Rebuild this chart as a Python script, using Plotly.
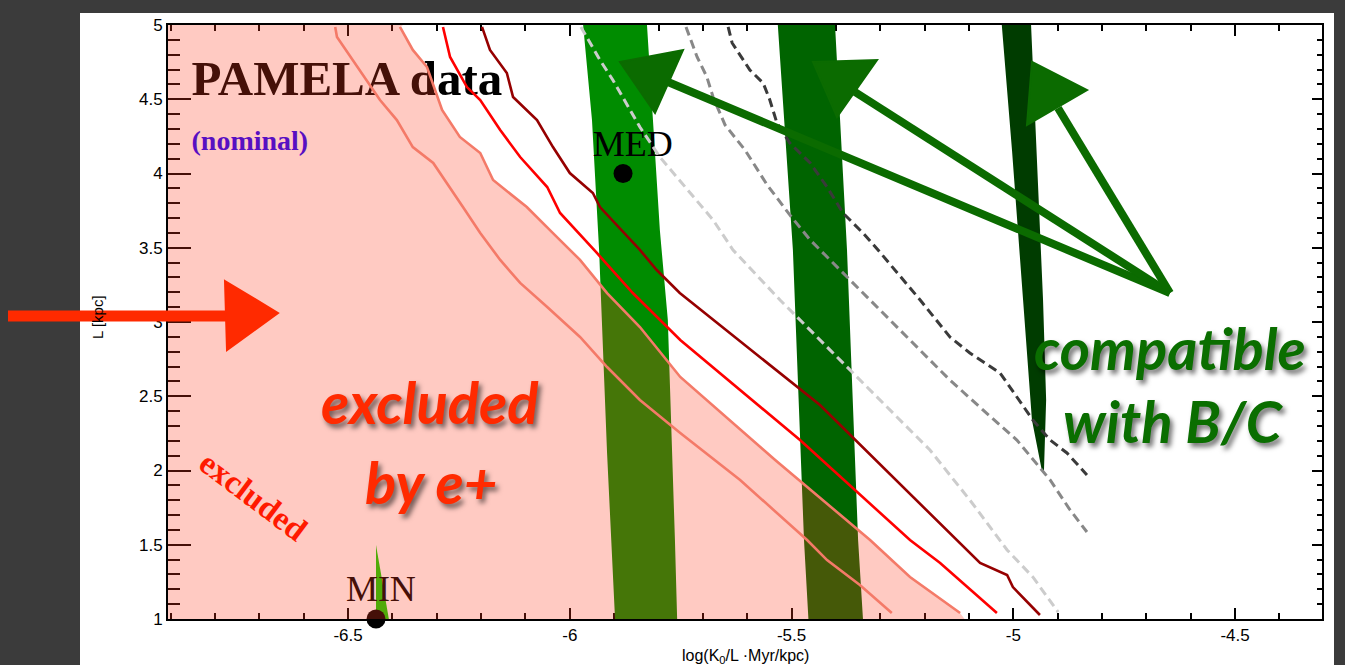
import plotly.graph_objects as go

# ---------------- data ----------------
X_RANGE = [-6.906, -4.304]
Y_RANGE = [1.0, 5.0]
X_TICKS = [-6.5, -6.0, -5.5, -5.0, -4.5]
X_TICK_TEXT = ["-6.5", "-6", "-5.5", "-5", "-4.5"]
Y_TICKS = [1, 1.5, 2, 2.5, 3, 3.5, 4, 4.5, 5]
Y_TICK_TEXT = ["1", "1.5", "2", "2.5", "3", "3.5", "4", "4.5", "5"]

# exclusion contours (solid)
salmon1_x = [-6.529, -6.525, -6.428, -6.390, -6.354, -6.308, -6.241, -6.202, -6.157, -6.112, -6.051,
             -5.977, -5.916, -5.842, -5.751, -5.616, -5.465, -5.420, -5.346, -5.274]
salmon1_y = [4.987, 4.919, 4.495, 4.360, 4.178, 4.071, 3.774, 3.599, 3.418, 3.263, 3.101,
             2.899, 2.697, 2.475, 2.253, 1.936, 1.532, 1.397, 1.229, 1.040]
salmon2_x = [-6.383, -6.354, -6.322, -6.288, -6.248, -6.202, -6.173, -6.097, -6.038, -5.977, -5.916,
             -5.842, -5.751, -5.537, -5.323, -5.233, -5.120]
salmon2_y = [4.987, 4.832, 4.717, 4.428, 4.246, 4.138, 3.956, 3.774, 3.599, 3.418, 3.195,
             2.966, 2.630, 2.071, 1.532, 1.283, 1.040]
red_x = [-6.286, -6.270, -6.232, -6.202, -6.157, -6.112, -6.051, -6.022, -5.939, -5.858, -5.751,
         -5.481, -5.233, -5.165, -5.037]
red_y = [4.987, 4.785, 4.582, 4.495, 4.293, 4.111, 3.909, 3.734, 3.465, 3.195, 2.879,
         2.205, 1.532, 1.377, 1.040]
darkred_x = [-6.198, -6.180, -6.142, -6.128, -6.074, -6.038, -6.000, -5.948, -5.932, -5.842, -5.804,
             -5.752, -5.436, -5.127, -5.075, -5.014, -5.001, -4.940]
darkred_y = [4.987, 4.832, 4.677, 4.515, 4.360, 4.178, 4.003, 3.869, 3.774, 3.485, 3.350,
             3.195, 2.441, 1.532, 1.377, 1.296, 1.215, 1.027]

# dashed contours
lgray_x = [-5.975, -5.932, -5.903, -5.864, -5.842, -5.797, -5.729, -5.677, -5.632, -5.526, -5.413,
           -5.301, -5.188, -5.098, -5.014, -4.956, -4.899]
lgray_y = [4.987, 4.764, 4.630, 4.428, 4.313, 4.111, 3.869, 3.687, 3.485, 3.148, 2.811,
           2.475, 2.138, 1.801, 1.465, 1.283, 1.047]
mgray_x = [-5.738, -5.713, -5.691, -5.677, -5.650, -5.605, -5.555, -5.504, -5.458, -5.391, -5.301,
           -5.210, -5.143, -5.068, -4.992, -4.917, -4.872, -4.834]
mgray_y = [4.987, 4.785, 4.650, 4.515, 4.327, 4.158, 3.923, 3.721, 3.552, 3.350, 3.081,
           2.811, 2.609, 2.407, 2.205, 1.936, 1.734, 1.586]
dgray_x = [-5.643, -5.634, -5.594, -5.564, -5.549, -5.533, -5.504, -5.458, -5.420, -5.384, -5.339,
           -5.305, -5.210, -5.143, -5.098, -5.030, -4.992, -4.956, -4.917, -4.879, -4.834]
dgray_y = [4.987, 4.879, 4.697, 4.609, 4.495, 4.340, 4.205, 4.071, 3.909, 3.734, 3.599,
           3.485, 3.148, 2.899, 2.791, 2.657, 2.495, 2.340, 2.205, 2.118, 1.970]

# B/C compatible bands (left edge top->bottom, right edge bottom->top)
med_left_x = [-5.970, -5.950, -5.934, -5.916, -5.898]
med_left_y = [5.0, 4.360, 3.485, 2.118, 1.0]
med_right_x = [-5.758, -5.763, -5.779, -5.797, -5.812, -5.826]
med_right_y = [1.0, 1.532, 3.013, 3.620, 4.360, 5.0]
mid_left_x = [-5.531, -5.497, -5.472, -5.462]
mid_left_y = [5.0, 3.485, 1.532, 1.0]
mid_right_x = [-5.339, -5.350, -5.375, -5.402]
mid_right_y = [1.0, 1.532, 3.485, 5.0]
max_left_x = [-5.026, -5.003, -4.978, -4.958, -4.935]
max_left_y = [5.0, 4.158, 3.148, 2.340, 1.990]
max_right_x = [-4.931, -4.926, -4.933, -4.960]
max_right_y = [1.990, 2.475, 3.148, 5.0]
min_wedge_x = [-6.437, -6.437, -6.408]
min_wedge_y = [1.498, 1.0, 1.0]

# excluded region corner points (left axis side) and boundary ends
excl_left_x = -7.0
excl_top_x = -6.376
excl_bottom_x = -5.110

# benchmark points
bench_names = ["MED", "MIN"]
bench_x = [-5.880, -6.437]
bench_y = [4.0, 1.0]
bench_label_x = [-5.858, -6.426]
bench_label_y = [4.178, 1.182]

# ---------------- layout helpers ----------------
W, H = 1345, 665
ML, MR, MT, MB = 168, 23, 25, 46
PW, PH = W - ML - MR, H - MT - MB


def pxx(p):
    return (p - ML) / PW


def pxy(p):
    return (H - MB - p) / PH


fig = go.Figure()

# green bands
def band(lx, ly, rx, ry, color):
    fig.add_trace(go.Scatter(x=lx + rx, y=ly + ry, fill="toself", fillcolor=color, mode="lines",
                             line=dict(width=0, color=color), hoverinfo="skip", showlegend=False))


band(med_left_x, med_left_y, med_right_x, med_right_y, "#008c00")
band(mid_left_x, mid_left_y, mid_right_x, mid_right_y, "#006400")
band(max_left_x, max_left_y, max_right_x, max_right_y, "#003c00")
fig.add_trace(go.Scatter(x=min_wedge_x, y=min_wedge_y, fill="toself", fillcolor="#10d400", mode="lines",
                         line=dict(width=0, color="#10d400"), hoverinfo="skip", showlegend=False))

# texts that sit under the translucent exclusion layer
fig.add_trace(go.Scatter(x=[-6.853], y=[4.61], mode="text", text=["<b>PAMELA data</b>"],
                         textposition="middle right",
                         textfont=dict(family="Liberation Serif", size=49, color="black"),
                         hoverinfo="skip", showlegend=False))
fig.add_trace(go.Scatter(x=[-6.853], y=[4.205], mode="text", text=["<b>(nominal)</b>"],
                         textposition="middle right",
                         textfont=dict(family="Liberation Serif", size=28, color="#1a00ff"),
                         hoverinfo="skip", showlegend=False))
fig.add_trace(go.Scatter(x=bench_label_x, y=bench_label_y, mode="text", text=bench_names,
                         textposition="middle center",
                         textfont=dict(family="Liberation Serif", size=36, color="black"),
                         hoverinfo="skip", showlegend=False))

# benchmark dots
fig.add_trace(go.Scatter(x=bench_x, y=bench_y, mode="markers", marker=dict(size=19, color="black"),
                         cliponaxis=False, hoverinfo="skip", showlegend=False))

# translucent excluded region
ex_x = [excl_left_x, excl_top_x] + salmon2_x + [excl_bottom_x, excl_left_x]
ex_y = [Y_RANGE[1], Y_RANGE[1]] + salmon2_y + [Y_RANGE[0], Y_RANGE[0]]
fig.add_trace(go.Scatter(x=ex_x, y=ex_y, fill="toself", fillcolor="rgba(255,60,30,0.27)", mode="lines",
                         line=dict(width=0), hoverinfo="skip", showlegend=False))

# contours
def curve(x, y, color, dash="solid", width=2.6):
    fig.add_trace(go.Scatter(x=x, y=y, mode="lines", line=dict(color=color, width=width, dash=dash),
                             hoverinfo="skip", showlegend=False))


curve(salmon1_x, salmon1_y, "#f47a68")
curve(salmon2_x, salmon2_y, "#f47a68")
curve(red_x, red_y, "#ff0000")
curve(darkred_x, darkred_y, "#960000")
curve(lgray_x, lgray_y, "#cccccc", dash="9px,5px", width=3)
curve(mgray_x, mgray_y, "#888888", dash="9px,5px", width=3)
curve(dgray_x, dgray_y, "#3a3a3a", dash="9px,5px", width=3)

# dummy trace for the right frame axis
fig.add_trace(go.Scatter(x=[X_RANGE[0]], y=[Y_RANGE[0]], xaxis="x2", yaxis="y2", mode="markers",
                         marker=dict(opacity=0), hoverinfo="skip", showlegend=False))

# ---------------- decorations (arrows, panel) ----------------
shapes = []
shapes.append(dict(type="rect", xref="paper", yref="paper", x0=pxx(80), x1=pxx(1334), y0=pxy(670), y1=pxy(13),
                   fillcolor="white", line=dict(width=0), layer="below"))


def tri(pts, color):
    path = "M " + " L ".join(f"{pxx(a):.5f},{pxy(b):.5f}" for a, b in pts) + " Z"
    return dict(type="path", xref="paper", yref="paper", path=path, fillcolor=color,
                line=dict(color=color, width=2), layer="above")


def seg(a, b, color, w):
    return dict(type="line", xref="paper", yref="paper", x0=pxx(a[0]), y0=pxy(a[1]), x1=pxx(b[0]), y1=pxy(b[1]),
                line=dict(color=color, width=w), layer="above")


RED = "#ff2a00"
shapes.append(seg((8, 316), (235, 316), RED, 11))
shapes.append(tri([(225, 281), (278, 313), (227, 350)], RED))
GRN = "#0b6b00"
conv = (1170, 293)
shapes.append(seg((668, 82), conv, GRN, 8))
shapes.append(seg((855, 92), conv, GRN, 8))
shapes.append(seg((1058, 108), conv, GRN, 8))
shapes.append(tri([(620, 62), (683, 50), (655, 113)], GRN))
shapes.append(tri([(813, 62), (877, 60), (837, 117)], GRN))
shapes.append(tri([(1032, 62), (1087, 90), (1027, 125)], GRN))

annotations = []
SH = "3px 4px 5px rgba(0,0,0,0.55)"


def ann(text, x, y, font, angle=0):
    annotations.append(dict(text=text, x=pxx(x), y=pxy(y), xref="paper", yref="paper", showarrow=False,
                            xanchor="center", yanchor="middle", textangle=angle, font=font))


big_red = dict(family="Lato", size=58, color="#ff2a00", weight="bold", style="italic", shadow=SH)
big_grn = dict(family="Lato", size=58, color="#0a6e00", weight="bold", style="italic", shadow=SH)
ann("excluded", 430, 401, big_red)
ann("by e+", 431, 481, big_red)
ann("compatible", 1170, 347, big_grn)
ann("with B/C", 1173, 420, big_grn)
ann("<b>excluded</b>", 253, 496, dict(family="Liberation Serif", size=33, color="#ff1a00"), angle=37)
ann("log(K<sub>0</sub>/L ·Myr/kpc)", 745, 656, dict(family="Liberation Sans", size=16, color="black"))
ann("L [kpc]", 97, 317, dict(family="Liberation Sans", size=15, color="black"), angle=-90)

axis_font = dict(family="Liberation Sans", size=17, color="black")
fig.update_layout(
    width=W, height=H, margin=dict(l=ML, r=MR, t=MT, b=MB, autoexpand=False),
    paper_bgcolor="#3b3b3b", plot_bgcolor="white",
    shapes=shapes, annotations=annotations,
    xaxis=dict(range=X_RANGE, tickvals=X_TICKS, ticktext=X_TICK_TEXT, ticks="inside", ticklen=11, tickwidth=1.5,
               tickcolor="black", showline=True, linecolor="black", linewidth=2, mirror="allticks",
               showgrid=False, zeroline=False, layer="below traces", tickfont=axis_font,
               minor=dict(dtick=0.1, tick0=-7, ticks="inside", ticklen=6, tickwidth=1.5, tickcolor="black",
                          showgrid=False)),
    yaxis=dict(range=Y_RANGE, tickvals=Y_TICKS, ticktext=Y_TICK_TEXT, ticks="inside", ticklen=23, tickwidth=1.5,
               tickcolor="black", showline=True, linecolor="black", linewidth=2, mirror=True,
               showgrid=False, zeroline=False, layer="below traces", tickfont=axis_font,
               minor=dict(dtick=0.1, tick0=1, ticks="inside", ticklen=12, tickwidth=1.5, tickcolor="black",
                          showgrid=False)),
    xaxis2=dict(range=X_RANGE, overlaying="x", side="top", anchor="y2", showticklabels=False, ticks="",
                showline=False, showgrid=False, zeroline=False),
    yaxis2=dict(range=Y_RANGE, overlaying="y", side="right", anchor="x2", showticklabels=False,
                ticks="inside", ticklen=10, tickwidth=1.5, tickcolor="black", dtick=0.5, tick0=1,
                showline=False, showgrid=False, zeroline=False,
                minor=dict(dtick=0.1, tick0=1, ticks="inside", ticklen=5, tickwidth=1.5, tickcolor="black")),
    showlegend=False,
)

fig.write_html("out.html", config={"displayModeBar": False},
               post_script="document.body.style.margin='0';document.body.style.overflow='hidden';")
